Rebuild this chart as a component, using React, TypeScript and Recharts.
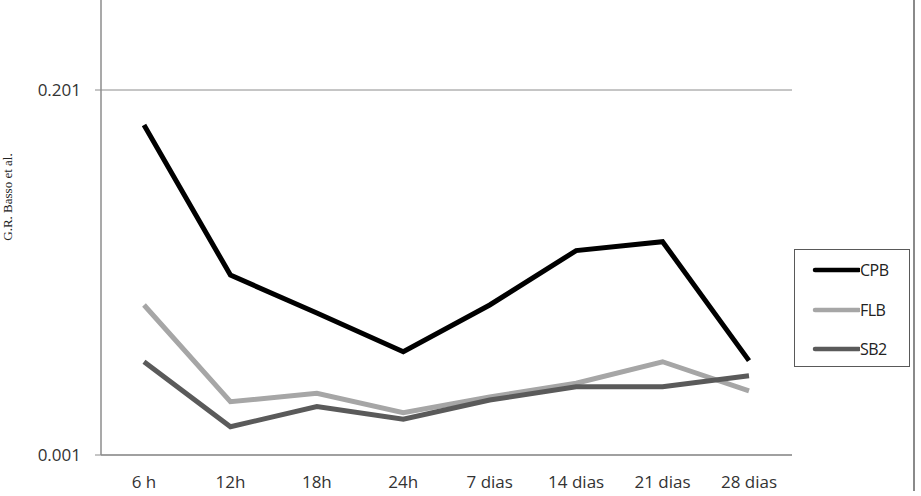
import React from 'react';
import { LineChart, Line, XAxis, YAxis, ReferenceLine } from 'recharts';

const categories = ['6 h', '12h', '18h', '24h', '7 dias', '14 dias', '21 dias', '28 dias'];
const cpb = [0.1818, 0.0996, 0.0788, 0.0576, 0.0832, 0.113, 0.1179, 0.0527];
const flb = [0.0832, 0.0302, 0.0348, 0.0242, 0.0328, 0.0403, 0.0521, 0.0362];
const sb2 = [0.0521, 0.0165, 0.0275, 0.0206, 0.0311, 0.0384, 0.0384, 0.0444];
const yTicks = [0.001, 0.201];

const seriesInfo = [
  { key: 'CPB', color: '#000000' },
  { key: 'FLB', color: '#a6a6a6' },
  { key: 'SB2', color: '#5a5a5a' },
];

const data = categories.map((name, i) => ({
  name,
  CPB: cpb[i],
  FLB: flb[i],
  SB2: sb2[i],
}));

const font = '"Open Sans", sans-serif';

// legend drawn outside the chart so it doesn't eat into the plot area
const LegendBox = () => (
  <div
    style={{
      position: 'absolute',
      left: 794,
      top: 249,
      width: 116,
      height: 118,
      border: '1.5px solid #595959',
      boxSizing: 'border-box',
      fontFamily: font,
      fontSize: 16,
      color: '#222',
    }}
  >
    {seriesInfo.map((s, i) => (
      <div
        key={s.key}
        style={{ position: 'absolute', left: 0, top: 20 + i * 39.5 - 10, display: 'flex', alignItems: 'center', height: 20 }}
      >
        <svg width={65} height={10} style={{ display: 'block' }}>
          <line x1={20} y1={5} x2={64} y2={5} stroke={s.color} strokeWidth={4.5} strokeLinecap="round" />
        </svg>
        <span style={{ letterSpacing: -0.5 }}>{s.key}</span>
      </div>
    ))}
  </div>
);

export default function App() {
  return (
    <div style={{ position: 'absolute', left: 0, top: 0, width: 921, height: 496, background: '#fff', overflow: 'hidden' }}>
      <div
        style={{
          position: 'absolute',
          left: 913,
          top: 0,
          width: 2,
          height: 491,
          background: '#8a8a8a',
        }}
      />
      <div
        style={{
          position: 'absolute',
          left: 8,
          top: 197,
          transform: 'translate(-50%, -50%) rotate(-90deg)',
          fontFamily: '"Liberation Serif", "Times New Roman", serif',
          fontSize: 13,
          whiteSpace: 'nowrap',
          color: '#222',
        }}
      >
        G.R. Basso et al.
      </div>
      <LineChart
        width={921}
        height={496}
        data={data}
        margin={{ top: 0, right: 129, left: 20, bottom: 0 }}
      >
        <XAxis
          dataKey="name"
          height={41}
          padding={{ left: 43, right: 43 }}
          axisLine={{ stroke: '#a0a0a0', strokeWidth: 2 }}
          tickLine={false}
          tickSize={0}
          tickMargin={21}
          interval={0}
          tick={{ fill: '#333', fontSize: 17, fontFamily: font }}
        />
        <YAxis
          width={81}
          domain={[0.001, 0.25032]}
          ticks={yTicks}
          allowDataOverflow
          axisLine={{ stroke: '#8c8c8c', strokeWidth: 1.5 }}
          tickLine={{ stroke: '#8c8c8c' }}
          tickSize={6}
          tickMargin={14}
          tickFormatter={(v: number) => v.toFixed(3)}
          tick={{ fill: '#333', fontSize: 17, fontFamily: font }}
        />
        <ReferenceLine y={yTicks[1]} stroke="#8c8c8c" strokeWidth={1} />
        {seriesInfo.map(s => (
          <Line
            key={s.key}
            dataKey={s.key}
            stroke={s.color}
            strokeWidth={5}
            dot={false}
            activeDot={false}
            isAnimationActive={false}
          />
        ))}
      </LineChart>
      <LegendBox />
    </div>
  );
}
